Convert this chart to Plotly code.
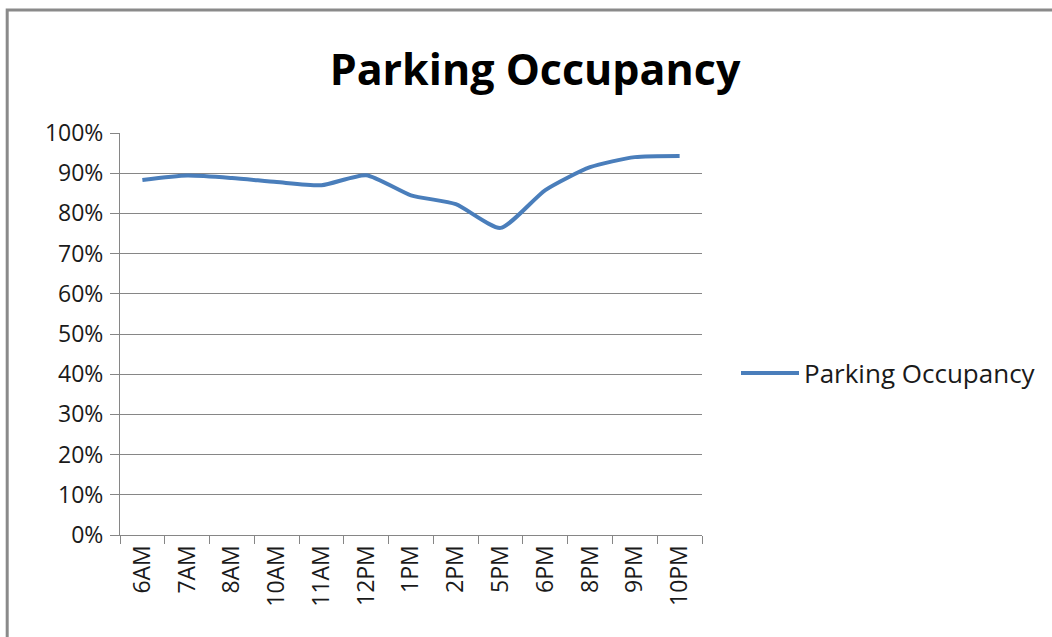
import plotly.graph_objects as go

# Hourly parking occupancy (share of spaces filled)
hours = ["6AM", "7AM", "8AM", "10AM", "11AM", "12PM", "1PM",
         "2PM", "5PM", "6PM", "8PM", "9PM", "10PM"]
occupancy = [0.883, 0.894, 0.888, 0.878, 0.870, 0.895, 0.845,
             0.823, 0.764, 0.858, 0.915, 0.940, 0.943]
y_ticks = [0, 0.1, 0.2, 0.3, 0.4, 0.5, 0.6, 0.7, 0.8, 0.9, 1.0]

W, H = 1052, 637
L, R, T, B = 120, 703, 133, 535
GRID = "#868686"
FONT = "Open Sans"
TEXT = "#1a1a1a"

fig = go.Figure()
fig.add_trace(go.Scatter(
    x=hours, y=occupancy, mode="lines", name="Parking Occupancy",
    line=dict(color="#4A7EBB", width=4, shape="spline", smoothing=0.6),
))

# px -> paper helpers for the frame and legend placement
def px_x(px):
    return (px - L) / (R - L)

def px_y(py):
    return (B - py) / (B - T)

fig.update_layout(
    width=W, height=H,
    margin=dict(l=L, r=W - R, t=T, b=H - B),
    paper_bgcolor="white", plot_bgcolor="white",
    title=dict(text="<b>Parking Occupancy</b>", x=535 / W, xanchor="center",
               xref="container", y=1 - 70 / H, yanchor="middle",
               font=dict(family=FONT, size=43, color="#000000")),
    showlegend=True,
    legend=dict(x=px_x(736), y=px_y(373), xanchor="left", yanchor="middle",
                itemwidth=58,
                font=dict(family=FONT, size=26, color=TEXT),
                bgcolor="rgba(0,0,0,0)"),
    xaxis=dict(type="category", tickson="boundaries", ticks="outside",
               ticklen=8, tickcolor=GRID, showline=True, linecolor=GRID,
               linewidth=1, showgrid=False, tickangle=-90,
               tickfont=dict(family=FONT, size=23, color=TEXT),
               range=[-0.5, len(hours) - 0.5]),
    yaxis=dict(range=[0, 1], tickvals=y_ticks, tickformat=".0%",
               ticks="outside", ticklen=9, tickcolor=GRID,
               ticklabelstandoff=2,
               showline=True, linecolor=GRID, linewidth=1,
               showgrid=True, gridcolor=GRID, gridwidth=1, zeroline=False,
               tickfont=dict(family=FONT, size=23, color=TEXT)),
    shapes=[
        dict(type="rect", xref="paper", yref="paper",
             x0=px_x(7), x1=px_x(W + 20), y0=px_y(H + 20), y1=px_y(10),
             line=dict(color="#8a8a8a", width=3), layer="below"),
    ],
)

fig.write_html("out.html")
